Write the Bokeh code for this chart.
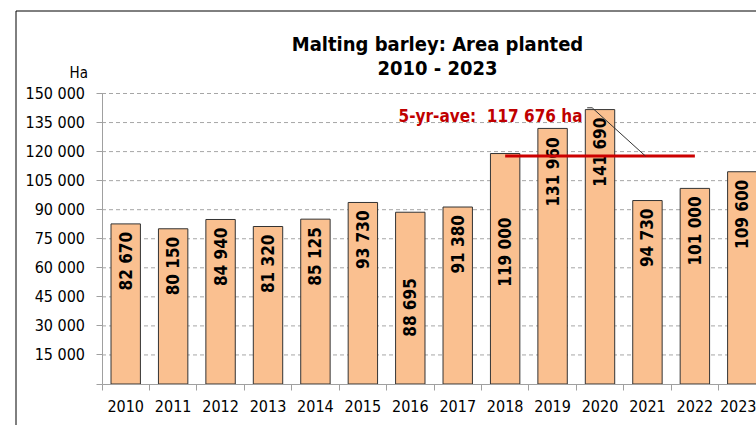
import math
from bokeh.plotting import figure
from bokeh.models import Range1d, FixedTicker, LinearAxis, ColumnDataSource
from bokeh.core.properties import value
from bokeh.embed import file_html
from bokeh.resources import INLINE

# ---- data ----
years = ["2010", "2011", "2012", "2013", "2014", "2015", "2016",
         "2017", "2018", "2019", "2020", "2021", "2022", "2023"]
area_ha = [82670, 80150, 84940, 81320, 85125, 93730, 88695,
           91380, 119000, 131960, 141690, 94730, 101000, 109600]
avg_years = ["2018", "2019", "2020", "2021", "2022"]
y_ticks = [15000, 30000, 45000, 60000, 75000, 90000, 105000,
           120000, 135000, 150000]
title_lines = ["Malting barley: Area planted", "2010 - 2023"]
unit_label = "Ha"

# ---- style ----
FONT = "DejaVu Sans Condensed"
BAR_FILL = "#FAC090"
BAR_LINE = "#333333"
RED = "#C00000"
GRID = "#A6A6A6"
AXIS = "#A0A0A0"
label_gap_px = [8, 8, 8, 8, 8, 8, 66, 8, 64, 9, 8, 8, 8, 8]

def fmt(v):
    return f"{int(round(v)):,}".replace(",", " ")

# canvas geometry (frame covers the whole canvas)
W, H = 756, 425
PX0, PY0 = 101.5, 383.5          # pixel position of data origin
UX = 47.43                        # px per category
Y_MAX = 150000
UY = 290.5 / Y_MAX                # px per hectare

def dx(px):
    return (px - PX0) / UX

def dy(py):
    return (PY0 - py) / UY

X_END = dx(W)
p = figure(width=W, height=H, output_backend="svg", toolbar_location=None,
           x_range=Range1d(dx(0), X_END), y_range=Range1d(dy(H), dy(0)),
           x_axis_location=None, y_axis_location=None, title=None,
           min_border=0, min_border_left=0, min_border_right=0,
           min_border_top=0, min_border_bottom=0)
p.outline_line_color = None
p.background_fill_color = "white"
p.border_fill_color = "white"
p.xgrid.visible = False
p.ygrid.visible = False

centers = [i + 0.5 for i in range(len(years))]

# gridlines (dashed) from the value axis to the right edge
p.segment(x0=[0] * len(y_ticks), x1=[X_END] * len(y_ticks),
          y0=y_ticks, y1=y_ticks, line_color=GRID, line_dash="4 3",
          line_width=1)

src = ColumnDataSource(dict(
    x=centers, top=area_ha,
    lab=[fmt(v) for v in area_ha],
    ly=[v - g / UY for v, g in zip(area_ha, label_gap_px)],
))

p.vbar(x="x", top="top", width=0.62, bottom=0, source=src,
       fill_color=BAR_FILL, line_color=BAR_LINE, line_width=1)

p.text(x="x", y="ly", text="lab", source=src, angle=math.pi / 2,
       text_align="right", text_baseline="middle",
       text_font=value(FONT), text_font_style="bold",
       text_font_size="17px", text_color="black")

# 5-year average line
idx = [years.index(y) for y in avg_years]
avg = sum(area_ha[i] for i in idx) / len(idx)
p.line(x=[centers[idx[0]], centers[idx[-1]]], y=[avg, avg],
       line_color="#CC0000", line_width=3)

# annotation + leader
p.line(x=[dx(586.7), dx(591.7), dx(645)], y=[dy(107.3), dy(107.3), avg],
       line_color="#333333", line_width=1)
p.text(x=[dx(582)], y=[dy(115)], text=[f"5-yr-ave:\u00a0 {fmt(avg)} ha"],
       text_align="right", text_baseline="alphabetic",
       text_font=value(FONT), text_font_style="bold",
       text_font_size="17px", text_color=RED)

# title and unit label
p.text(x=[dx(437), dx(437)], y=[dy(43.5), dy(67.7)], text=title_lines,
       text_align="center", text_baseline="alphabetic",
       text_font=value(FONT), text_font_style="bold",
       text_font_size="20px", text_color="black")
p.text(x=[dx(78.3)], y=[dy(72.7)], text=[unit_label],
       text_align="center", text_baseline="alphabetic",
       text_font=value(FONT), text_font_size="15px", text_color="black")

# outer chart border (left + top)
p.line(x=[dx(15.5), dx(15.5), dx(W + 5)], y=[dy(H + 5), dy(10.5), dy(10.5)],
       line_color="black", line_width=1)

# axes
yax = LinearAxis(fixed_location=0, bounds=(0, Y_MAX))
yax.ticker = FixedTicker(ticks=[0] + y_ticks)
yax.major_label_overrides = {0: ""} | {t: fmt(t) for t in y_ticks}
yax.axis_line_color = AXIS
yax.major_tick_line_color = AXIS
yax.major_tick_out = 6
yax.major_tick_in = 0
yax.minor_tick_line_color = None
yax.major_label_text_font = FONT
yax.major_label_text_font_size = "16px"
yax.major_label_text_color = "black"
yax.major_label_standoff = 11
p.add_layout(yax, "left")

xax = LinearAxis(fixed_location=0, bounds=(0, X_END))
xax.ticker = FixedTicker(ticks=centers, minor_ticks=list(range(len(years) + 1)))
xax.major_label_overrides = {c: y for c, y in zip(centers, years)}
xax.axis_line_color = AXIS
xax.major_tick_line_color = None
xax.major_tick_out = 0
xax.major_tick_in = 0
xax.minor_tick_line_color = AXIS
xax.minor_tick_out = 6
xax.minor_tick_in = 0
xax.major_label_text_font = FONT
xax.major_label_text_font_size = "16px"
xax.major_label_text_color = "black"
xax.major_label_standoff = 10
p.add_layout(xax, "below")

open("out.html", "w").write(file_html(p, INLINE))
